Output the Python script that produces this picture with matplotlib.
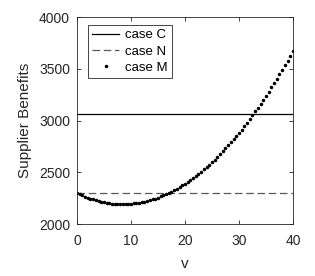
import matplotlib
matplotlib.use('Agg')
import matplotlib.pyplot as plt

plt.rcParams['font.family'] = ['Liberation Sans', 'DejaVu Sans']

# values
v = [k * 0.5 for k in range(81)]
case_c = 3060
case_n = 2300
case_m = [2300, 2288, 2276, 2265, 2255, 2246, 2238, 2230, 2223, 2216,
          2211, 2206, 2202, 2198, 2196, 2194, 2193, 2193, 2193, 2194,
          2196, 2199, 2202, 2206, 2211, 2216, 2223, 2230, 2238, 2246,
          2256, 2266, 2276, 2288, 2300, 2313, 2327, 2342, 2357, 2373,
          2390, 2407, 2425, 2444, 2464, 2485, 2506, 2528, 2550, 2574,
          2598, 2623, 2649, 2675, 2702, 2730, 2759, 2788, 2819, 2849,
          2881, 2913, 2947, 2980, 3015, 3050, 3087, 3123, 3161, 3199,
          3239, 3278, 3319, 3360, 3402, 3445, 3489, 3533, 3578, 3624,
          3670]

fig = plt.figure(figsize=(3.15, 2.76), dpi=100)
ax = fig.add_axes([0.2444, 0.1884, 0.6857, 0.75])

ax.plot([v[0], v[-1]], [case_c, case_c], '-', color='k', lw=0.9, label='case C')
ax.plot([v[0], v[-1]], [case_n, case_n], '--', color='0.35', lw=0.9,
        dashes=(6, 3), label='case N')
ax.plot(v, case_m, '.', color='k', ms=3.0, label='case M')

ax.set_xlim(0, 40)
ax.set_ylim(2000, 4000)
ax.set_xticks([0, 10, 20, 30, 40])
ax.set_yticks([2000, 2500, 3000, 3500, 4000])
ax.tick_params(direction='in', top=True, right=True, length=3, width=0.6,
               labelsize=10, colors='0.15')
ax.tick_params(axis='x', pad=7)
ax.tick_params(axis='y', pad=5)
for s in ax.spines.values():
    s.set_color('0.15')
    s.set_linewidth(0.6)

ax.set_xlabel('v', fontsize=11, color='0.15', labelpad=7)
ax.set_ylabel('Supplier Benefits', fontsize=11, color='0.15', labelpad=5)

leg = ax.legend(loc='upper left', bbox_to_anchor=(0.05, 0.96), fontsize=9.5,
                handlelength=2.1, fancybox=False, framealpha=1,
                edgecolor='0.15', borderpad=0.3, labelspacing=0.3,
                handletextpad=0.45, borderaxespad=0)
leg.get_frame().set_linewidth(0.6)

fig.savefig('out.png', dpi=100)
